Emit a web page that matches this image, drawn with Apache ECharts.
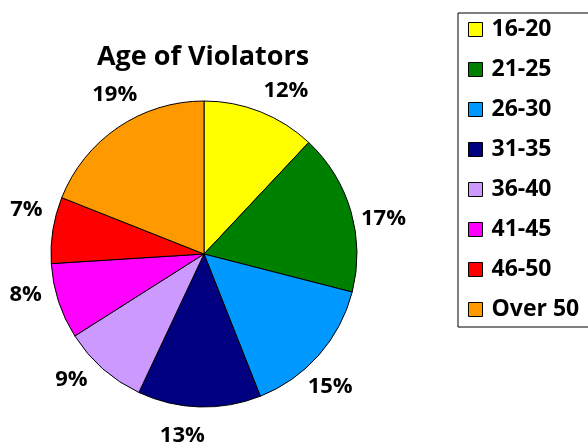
<!DOCTYPE html>
<html>
<head>
<meta charset="utf-8">
<script src="https://cdn.jsdelivr.net/npm/echarts@6/dist/echarts.min.js"></script>
<style>
  html, body { margin: 0; padding: 0; background: #fff; }
  #chart { width: 588px; height: 442px; }
</style>
</head>
<body>
<div id="chart"></div>
<script>
const ageGroups = ["16-20", "21-25", "26-30", "31-35", "36-40", "41-45", "46-50", "Over 50"];
const shares = [12, 17, 15, 13, 9, 8, 7, 19];
const colors = ["#FFFF00", "#008000", "#0099FF", "#000080", "#CC99FF", "#FF00FF", "#FF0000", "#FF9900"];

const font = "'Open Sans', sans-serif";
const pieData = ageGroups.map((g, i) => ({ name: g, value: shares[i] }));
const chart = echarts.init(document.getElementById("chart"));
chart.setOption({
  animation: false,
  textStyle: { fontFamily: font },
  title: {
    text: "Age of Violators",
    left: 198,
    top: 39,
    textAlign: "center",
    textStyle: { fontSize: 27, fontWeight: "bold", color: "#000", fontFamily: font }
  },
  legend: {
    orient: "vertical",
    left: 458,
    top: 13,
    padding: [5, 16, 6, 10],
    itemGap: 17,
    itemWidth: 14,
    itemHeight: 14,
    icon: "rect",
    borderColor: "#000",
    borderWidth: 1,
    data: ageGroups,
    itemStyle: { borderColor: "#000", borderWidth: 1 },
    textStyle: { fontSize: 23, lineHeight: 23, fontWeight: "bold", color: "#000", fontFamily: font, padding: [0, 0, 0, 4] }
  },
  series: [{
    type: "pie",
    center: [204, 254],
    radius: 153,
    startAngle: 90,
    clockwise: true,
    color: colors,
    itemStyle: { borderColor: "#000", borderWidth: 1 },
    label: { show: false },
    labelLine: { show: false },
    emphasis: { disabled: true },
    data: pieData
  }, {
    // transparent ring used only to place the percentage labels outside the pie
    type: "pie",
    center: [204, 254],
    radius: [168, 192],
    startAngle: 85,
    clockwise: true,
    silent: true,
    color: colors,
    itemStyle: { opacity: 0 },
    label: {
      show: true,
      position: "inside",
      formatter: "{c}%",
      fontSize: 22,
      fontWeight: "bold",
      color: "#000",
      fontFamily: font,
      opacity: 1
    },
    labelLine: { show: false },
    emphasis: { disabled: true },
    data: pieData
  }]
});
</script>
</body>
</html>
